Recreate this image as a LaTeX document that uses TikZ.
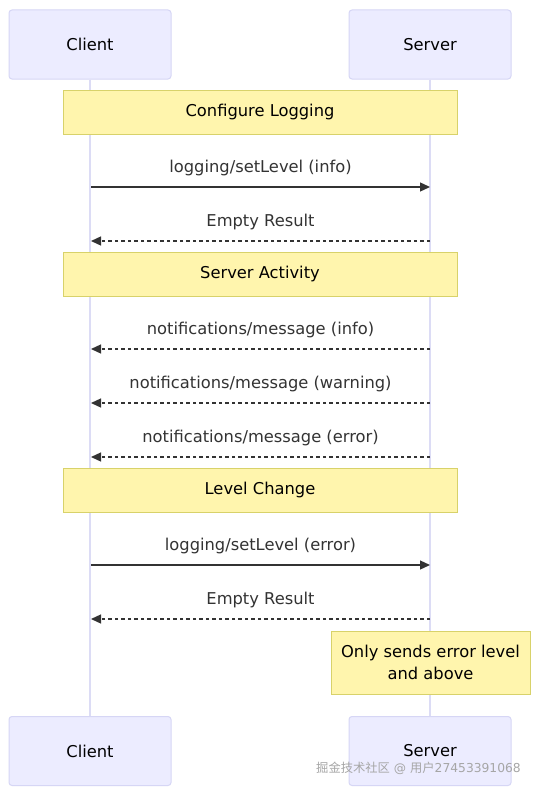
\documentclass[tikz,border=0pt]{standalone}
\usepackage{fontspec}
\setmainfont{DejaVu Sans}
\newfontfamily\cjkfont{Noto Sans CJK SC}
\usetikzlibrary{arrows.meta}
\definecolor{actfill}{HTML}{ECECFF}
\definecolor{actdraw}{HTML}{D6D6F5}
\definecolor{lifec}{HTML}{DCDCF5}
\definecolor{notefill}{HTML}{FFF5AD}
\definecolor{notedraw}{HTML}{D8D26A}
\definecolor{txt}{HTML}{333333}
\tikzset{
  actor/.style={draw=actdraw, fill=actfill, line width=1pt, rounded corners=3pt, minimum width=162pt, minimum height=69pt, font=\fontsize{16.3}{22}\selectfont, text=black},
  notebox/.style={draw=notedraw, fill=notefill, line width=1pt, font=\fontsize{16.3}{22}\selectfont, text=black, align=center},
  lifeline/.style={draw=lifec, line width=1.5pt},
  msg/.style={draw=txt, line width=1.3pt, -{Triangle[length=10pt,width=9pt]}},
  reply/.style={msg, dash pattern=on 3.5pt off 3pt},
  lbl/.style={font=\fontsize{16.3}{19}\selectfont, text=txt}
}
\begin{document}
\begin{tikzpicture}[x=1pt,y=-1pt]
\useasboundingbox[fill=white] (0,0) rectangle (538,792);
% actors
\node[actor] (c1) at (90,44.5) {Client};
\node[actor] (s1) at (430,44.5) {Server};
\node[actor] (c2) at (90,751) {Client};
\node[actor] (s2) at (430,751) {Server};
\draw[lifeline] (c1.south) -- (c2.north);
\draw[lifeline] (s1.south) -- (s2.north);
% coordinates on lifelines
\foreach \n/\y in {a/187,b/241,c/349,d/403,e/457,f/565,g/619}{
  \coordinate (c\n) at (91,\y);
  \coordinate (s\n) at (430,\y);
}
% notes
\node[notebox, minimum width=394pt, minimum height=44pt] (n1) at (260,112) {Configure Logging};
\node[notebox, minimum width=394pt, minimum height=44pt] (n2) at (260,274) {Server Activity};
\node[notebox, minimum width=394pt, minimum height=44pt] (n3) at (260,490) {Level Change};
\node[notebox, minimum width=199pt, minimum height=63pt] (n4) at (430.5,662.5) {Only sends error level\\and above};
% messages
\draw[msg] (ca) -- (sa) node[lbl, midway, above=7.5pt] (la) {logging/setLevel (info)};
\draw[reply] (sb) -- (cb) node[lbl, midway, above=7.5pt] (lb) {Empty Result};
\draw[reply] (sc) -- (cc) node[lbl, midway, above=7.5pt] (lc) {notifications/message (info)};
\draw[reply] (sd) -- (cd) node[lbl, midway, above=7.5pt] (ld) {notifications/message (warning)};
\draw[reply] (se) -- (ce) node[lbl, midway, above=7.5pt] (le) {notifications/message (error)};
\draw[msg] (cf) -- (sf) node[lbl, midway, above=7.5pt] (lf) {logging/setLevel (error)};
\draw[reply] (sg) -- (cg) node[lbl, midway, above=7.5pt] (lg) {Empty Result};
% watermark
\node[font=\fontsize{12.3}{15}\selectfont, text=gray!70, anchor=east, inner sep=0pt] (wm) at (521,768) {{\cjkfont 掘金技术社区} @ {\cjkfont 用户}27453391068};
\end{tikzpicture}
\end{document}
